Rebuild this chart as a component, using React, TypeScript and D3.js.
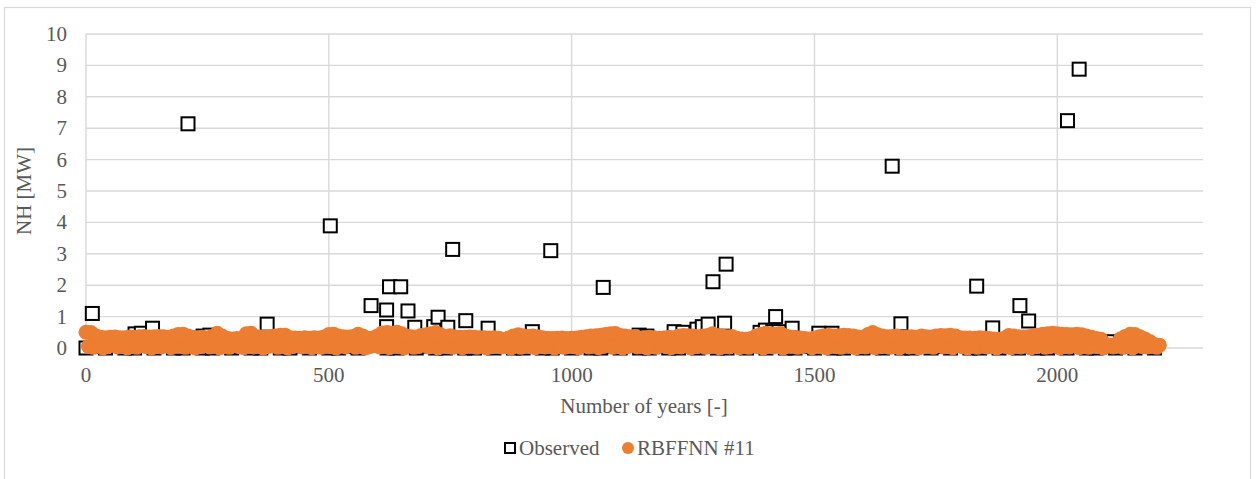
import React, { useEffect, useRef } from "react";
import * as d3 from "d3";

// observed values that stand clear of the prediction band: [year, NH]
const observedPeaks: [number, number][] = [
  [13, 1.1], [40, 0.3], [101, 0.45], [114, 0.47], [137, 0.63], [210, 7.14],
  [241, 0.38], [255, 0.41], [270, 0.36], [373, 0.76], [440, 0.3], [470, 0.3],
  [503, 3.89], [587, 1.35], [619, 1.21], [619, 0.68], [625, 1.95], [648, 1.95],
  [663, 1.18], [677, 0.66], [716, 0.68], [725, 0.98], [745, 0.66], [755, 3.14],
  [782, 0.87], [828, 0.63], [919, 0.52], [957, 3.1], [1065, 1.93], [1139, 0.41],
  [1155, 0.38], [1211, 0.52], [1229, 0.5], [1258, 0.6], [1269, 0.68], [1281, 0.76],
  [1291, 2.11], [1315, 0.79], [1318, 2.67], [1388, 0.5], [1399, 0.57], [1414, 0.52],
  [1420, 1.0], [1427, 0.52], [1454, 0.63], [1509, 0.47], [1536, 0.47], [1593, 0.3],
  [1660, 5.79], [1678, 0.77], [1700, 0.3], [1740, 0.3], [1834, 1.97], [1867, 0.64],
  [1923, 1.35], [1941, 0.86], [2021, 7.24], [2045, 8.88], [2115, 0.2], [2130, 0.18],
];

// observed values under the band, one every 20 years from year 0
const observedBase = [
  0, 0.05, 0, 0.1, 0, 0, 0.08, 0, 0.12, 0,
  0, 0.06, 0, 0, 0.1, 0, 0.05, 0, 0, 0.1,
  0, 0, 0.07, 0, 0.12, 0, 0, 0.05, 0, 0.1,
  0.08, 0, 0, 0.1, 0, 0.06, 0, 0, 0.12, 0,
  0, 0.05, 0, 0.1, 0, 0, 0.08, 0, 0, 0.05,
  0, 0.1, 0, 0, 0.06, 0, 0.12, 0, 0, 0.08,
  0, 0, 0.1, 0, 0.05, 0, 0, 0.1, 0, 0.07,
  0, 0.12, 0, 0, 0.05, 0, 0.1, 0, 0, 0.08,
  0, 0.06, 0, 0.1, 0, 0, 0.12, 0, 0.05, 0,
  0.1, 0, 0, 0.08, 0, 0.06, 0, 0.1, 0, 0,
  0.05, 0, 0.1, 0, 0, 0.08, 0, 0.06, 0, 0.05, 0,
];

// RBFFNN #11 upper values, one every 10 years from year 0
const rbfHigh = [
  0.5, 0.49, 0.39, 0.34, 0.33, 0.34, 0.35, 0.33, 0.33, 0.35,
  0.34, 0.36, 0.37, 0.35, 0.36, 0.37, 0.36, 0.34, 0.38, 0.43,
  0.44, 0.38, 0.34, 0.33, 0.34, 0.32, 0.37, 0.47, 0.38, 0.31,
  0.29, 0.3, 0.29, 0.45, 0.47, 0.36, 0.35, 0.34, 0.35, 0.38,
  0.41, 0.41, 0.33, 0.32, 0.31, 0.33, 0.31, 0.33, 0.32, 0.35,
  0.43, 0.44, 0.38, 0.36, 0.35, 0.37, 0.44, 0.38, 0.31, 0.32,
  0.38, 0.48, 0.49, 0.47, 0.5, 0.45, 0.38, 0.36, 0.35, 0.4,
  0.42, 0.45, 0.49, 0.42, 0.36, 0.39, 0.35, 0.34, 0.34, 0.35,
  0.34, 0.33, 0.33, 0.32, 0.33, 0.31, 0.27, 0.32, 0.38, 0.42,
  0.39, 0.37, 0.38, 0.36, 0.33, 0.31, 0.3, 0.31, 0.32, 0.3,
  0.31, 0.32, 0.34, 0.36, 0.38, 0.39, 0.41, 0.43, 0.45, 0.46,
  0.4, 0.38, 0.36, 0.37, 0.32, 0.31, 0.34, 0.33, 0.31, 0.32,
  0.34, 0.33, 0.38, 0.4, 0.39, 0.38, 0.36, 0.38, 0.4, 0.45,
  0.4, 0.38, 0.36, 0.37, 0.31, 0.29, 0.28, 0.3, 0.38, 0.44,
  0.47, 0.45, 0.43, 0.46, 0.38, 0.35, 0.34, 0.32, 0.3, 0.29,
  0.32, 0.36, 0.39, 0.4, 0.38, 0.39, 0.41, 0.4, 0.38, 0.35,
  0.33, 0.43, 0.49, 0.42, 0.38, 0.36, 0.37, 0.38, 0.34, 0.35,
  0.36, 0.34, 0.38, 0.36, 0.35, 0.38, 0.4, 0.39, 0.41, 0.38,
  0.33, 0.32, 0.32, 0.31, 0.33, 0.32, 0.3, 0.29, 0.28, 0.3,
  0.4, 0.38, 0.36, 0.35, 0.36, 0.38, 0.41, 0.44, 0.45, 0.47,
  0.45, 0.44, 0.43, 0.42, 0.44, 0.42, 0.38, 0.34, 0.3, 0.28,
  0.12, 0.09, 0.11, 0.29, 0.37, 0.44, 0.43, 0.36, 0.29, 0.21,
  0.11, 0.09,
];

// RBFFNN #11 lower values, one every 10 years from year 5
const rbfLow = [
  0.05, 0.02, 0.08, 0.0, 0.04, 0.1, 0.03, 0.06, 0.0, 0.07,
  0.02, 0.09, 0.04, 0.0, 0.06, 0.03, 0.08, 0.01, 0.05, 0.1,
  0.02, 0.06, 0.0, 0.04, 0.08, 0.03, 0.07, 0.0, 0.05, 0.02,
  0.09, 0.04, 0.01, 0.06, 0.03, 0.08, 0.0, 0.05, 0.1, 0.02,
  0.06, 0.0, 0.04, 0.07, 0.03, 0.09, 0.01, 0.05, 0.02, 0.08,
  0.04, 0.0, 0.06, 0.03, 0.1, 0.02, 0.07, 0.0, 0.05, 0.08,
  0.03, 0.06, 0.01, 0.09, 0.04, 0.0, 0.07, 0.02, 0.05, 0.1,
  0.03, 0.06, 0.0, 0.08, 0.04, 0.02, 0.07, 0.01, 0.05, 0.09,
  0.02, 0.06, 0.0, 0.04, 0.08, 0.03, 0.05, 0.0, 0.07, 0.02,
  0.1, 0.04, 0.01, 0.06, 0.03, 0.08, 0.0, 0.05, 0.02, 0.07,
  0.04, 0.0, 0.09, 0.03, 0.06, 0.01, 0.05, 0.08, 0.02, 0.06,
  0.0, 0.04, 0.1, 0.03, 0.07, 0.0, 0.05, 0.02, 0.08, 0.04,
  0.01, 0.06, 0.03, 0.09, 0.0, 0.05, 0.07, 0.02, 0.04, 0.08,
  0.0, 0.06, 0.03, 0.1, 0.01, 0.05, 0.02, 0.07, 0.04, 0.0,
  0.08, 0.03, 0.06, 0.0, 0.05, 0.09, 0.02, 0.04, 0.07, 0.01,
  0.06, 0.03, 0.0, 0.08, 0.04, 0.02, 0.1, 0.05, 0.0, 0.07,
  0.03, 0.06, 0.01, 0.04, 0.09, 0.02, 0.05, 0.0, 0.08, 0.03,
  0.06, 0.0, 0.04, 0.07, 0.02, 0.1, 0.03, 0.05, 0.01, 0.08,
  0.04, 0.0, 0.06, 0.02, 0.09, 0.03, 0.05, 0.0, 0.07, 0.04,
  0.01, 0.08, 0.03, 0.06, 0.0, 0.05, 0.1, 0.02, 0.04, 0.07,
  0.0, 0.06, 0.03, 0.08, 0.01, 0.05, 0.02, 0.09, 0.04, 0.0,
  0.06, 0.03, 0.07, 0.02, 0.05, 0.0, 0.08, 0.04, 0.03, 0.06,
  0.02,
];

const xTicks = [0, 500, 1000, 1500, 2000];
const yTicks = [0, 1, 2, 3, 4, 5, 6, 7, 8, 9, 10];

const W = 1257;
const H = 479;
const font = "Liberation Serif, Times New Roman, Times, serif";
const fontSize = 21;
const textColor = "#595959";
const gridColor = "#d9d9d9";
const orange = "#ED7D31";

const App = () => {
  const ref = useRef<SVGGElement>(null);

  useEffect(() => {
    const g = d3.select(ref.current);
    g.selectAll("*").remove();

    const x = d3.scaleLinear().domain([0, 2300]).range([86, 1203]);
    const y = d3.scaleLinear().domain([0, 10]).range([348, 34]);

    // gridlines
    g.append("g")
      .selectAll("line")
      .data(yTicks)
      .enter()
      .append("line")
      .attr("x1", x(0))
      .attr("x2", x(2300))
      .attr("y1", (d) => y(d))
      .attr("y2", (d) => y(d))
      .attr("stroke", gridColor)
      .attr("stroke-width", 1.4);

    g.append("g")
      .selectAll("line")
      .data(xTicks)
      .enter()
      .append("line")
      .attr("x1", (d) => x(d))
      .attr("x2", (d) => x(d))
      .attr("y1", y(0))
      .attr("y2", y(10))
      .attr("stroke", gridColor)
      .attr("stroke-width", 1.4);

    // tick labels
    g.append("g")
      .selectAll("text")
      .data(yTicks)
      .enter()
      .append("text")
      .attr("x", 67)
      .attr("y", (d) => y(d))
      .attr("dy", "0.33em")
      .attr("text-anchor", "end")
      .attr("fill", textColor)
      .text((d) => d);

    g.append("g")
      .selectAll("text")
      .data(xTicks)
      .enter()
      .append("text")
      .attr("x", (d) => x(d))
      .attr("y", 382)
      .attr("text-anchor", "middle")
      .attr("fill", textColor)
      .text((d) => d);

    // observed squares
    const obs: [number, number][] = [
      ...observedBase.map((v, i) => [i * 20, v] as [number, number]),
      ...observedPeaks,
    ];
    const sq = 13;
    g.append("g")
      .selectAll("rect")
      .data(obs)
      .enter()
      .append("rect")
      .attr("x", (d) => x(d[0]) - sq / 2)
      .attr("y", (d) => y(d[1]) - sq / 2)
      .attr("width", sq)
      .attr("height", sq)
      .attr("fill", "white")
      .attr("stroke", "black")
      .attr("stroke-width", 2);

    // model dots
    const pred: [number, number][] = [
      ...rbfLow.map((v, i) => [i * 10 + 5, v] as [number, number]),
      ...rbfHigh.map((v, i) => [i * 10, v] as [number, number]),
    ];
    g.append("g")
      .selectAll("circle")
      .data(pred)
      .enter()
      .append("circle")
      .attr("cx", (d) => x(d[0]))
      .attr("cy", (d) => y(d[1]))
      .attr("r", 7.5)
      .attr("fill", orange);

    // axis titles
    g.append("text")
      .attr("transform", `translate(31, ${y(5)}) rotate(-90)`)
      .attr("text-anchor", "middle")
      .attr("fill", textColor)
      .text("NH [MW]");

    g.append("text")
      .attr("x", 644)
      .attr("y", 413)
      .attr("text-anchor", "middle")
      .attr("fill", textColor)
      .text("Number of years [-]");

    // legend
    const legend = g.append("g");
    legend
      .append("rect")
      .attr("x", 505)
      .attr("y", 443)
      .attr("width", 10)
      .attr("height", 10)
      .attr("fill", "white")
      .attr("stroke", "black")
      .attr("stroke-width", 2);
    legend
      .append("text")
      .attr("x", 519)
      .attr("y", 455)
      .attr("fill", textColor)
      .text("Observed");
    legend
      .append("circle")
      .attr("cx", 628)
      .attr("cy", 448)
      .attr("r", 6)
      .attr("fill", orange);
    legend
      .append("text")
      .attr("x", 637)
      .attr("y", 455)
      .attr("fill", textColor)
      .text("RBFFNN #11");
  }, []);

  return (
    <div style={{ position: "fixed", left: 0, top: 0, background: "white" }}>
      <svg
        width={W}
        height={H}
        style={{ display: "block", fontFamily: font, fontSize: `${fontSize}px` }}
      >
        <rect x={0} y={0} width={W} height={H} fill="white" />
        <rect x={4.5} y={7.5} width={1246} height={H} fill="none" stroke={gridColor} strokeWidth={1.2} />
        <g ref={ref} />
      </svg>
    </div>
  );
};

export default App;
